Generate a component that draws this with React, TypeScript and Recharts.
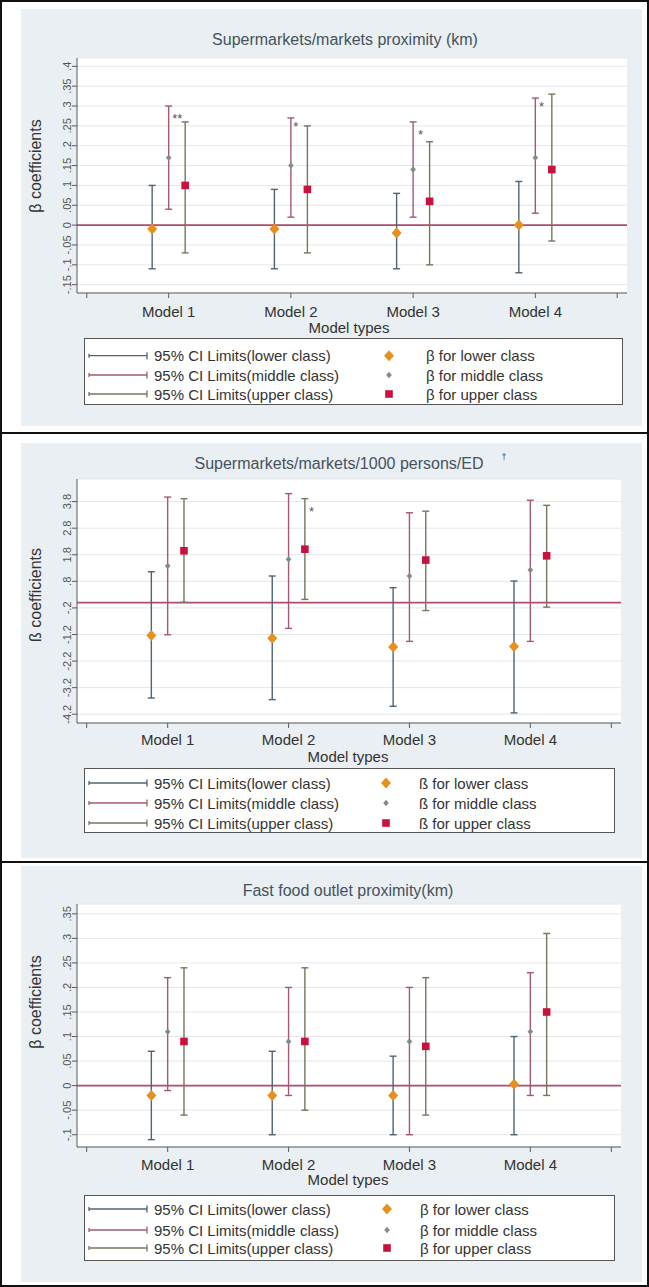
import React from 'react';
import { ComposedChart, Scatter, XAxis, YAxis, CartesianGrid, ReferenceLine, ErrorBar } from 'recharts';

// ---------- shared categories / labels ----------
const models = [1, 2, 3, 4];
const modelLabels = ['Model 1', 'Model 2', 'Model 3', 'Model 4'];
const xTicks = [0.33, 1, 2, 3, 4, 4.67];
const xAxisTitle = 'Model types';
const ciLabels = ['95% CI Limits(lower class)', '95% CI Limits(middle class)', '95% CI Limits(upper class)'];
const betaLabelTail = [' for lower class', ' for middle class', ' for upper class'];

// ---------- panel 1: Supermarkets/markets proximity (km) ----------
const p1Title = 'Supermarkets/markets proximity (km)';
const p1LowerBeta = [-0.01, -0.01, -0.02, 0.0];
const p1LowerLo = [-0.11, -0.11, -0.11, -0.12];
const p1LowerHi = [0.1, 0.09, 0.08, 0.11];
const p1MiddleBeta = [0.17, 0.15, 0.14, 0.17];
const p1MiddleLo = [0.04, 0.02, 0.02, 0.03];
const p1MiddleHi = [0.3, 0.27, 0.26, 0.32];
const p1UpperBeta = [0.1, 0.09, 0.06, 0.14];
const p1UpperLo = [-0.07, -0.07, -0.1, -0.04];
const p1UpperHi = [0.26, 0.25, 0.21, 0.33];
const p1YTicks = [-0.15, -0.1, -0.05, 0, 0.05, 0.1, 0.15, 0.2, 0.25, 0.3, 0.35, 0.4];
const p1AnnotX = [1.07, 2.04, 3.06, 4.05];
const p1AnnotY = [0.275, 0.255, 0.237, 0.306];
const p1AnnotText = ['**', '*', '*', '*'];

// ---------- panel 2: Supermarkets/markets/1000 persons/ED ----------
const p2Title = 'Supermarkets/markets/1000 persons/ED';
const p2LowerBeta = [-1.24, -1.34, -1.67, -1.65];
const p2LowerLo = [-3.59, -3.65, -3.9, -4.15];
const p2LowerHi = [1.16, 1.0, 0.56, 0.81];
const p2MiddleBeta = [1.38, 1.63, 1.0, 1.23];
const p2MiddleLo = [-1.21, -0.97, -1.46, -1.46];
const p2MiddleHi = [3.97, 4.1, 3.38, 3.85];
const p2UpperBeta = [1.95, 2.01, 1.6, 1.76];
const p2UpperLo = [0.01, 0.12, -0.3, -0.17];
const p2UpperHi = [3.91, 3.91, 3.44, 3.66];
const p2YTicks = [-4.2, -3.2, -2.2, -1.2, -0.2, 0.8, 1.8, 2.8, 3.8];
const p2AnnotX = [2.19];
const p2AnnotY = [3.55];
const p2AnnotText = ['*'];

// ---------- panel 3: Fast food outlet proximity(km) ----------
const p3Title = 'Fast food outlet proximity(km)';
const p3LowerBeta = [-0.02, -0.02, -0.02, 0.003];
const p3LowerLo = [-0.11, -0.1, -0.1, -0.1];
const p3LowerHi = [0.07, 0.07, 0.06, 0.1];
const p3MiddleBeta = [0.11, 0.09, 0.09, 0.11];
const p3MiddleLo = [-0.01, -0.02, -0.1, -0.02];
const p3MiddleHi = [0.22, 0.2, 0.2, 0.23];
const p3UpperBeta = [0.09, 0.09, 0.08, 0.15];
const p3UpperLo = [-0.06, -0.05, -0.06, -0.02];
const p3UpperHi = [0.24, 0.24, 0.22, 0.31];
const p3YTicks = [-0.1, -0.05, 0, 0.05, 0.1, 0.15, 0.2, 0.25, 0.3, 0.35];

// ---------- styles ----------
const FONT = '"Liberation Sans", Arial, sans-serif';
const LOWER_CI = '#4d6474';
const MIDDLE_CI = '#a35a6c';
const UPPER_CI = '#76765e';
const ZERO = '#b24c6c';
const LOWER_PT = '#e8901e';
const MIDDLE_PT = '#7d8b92';
const UPPER_PT = '#c8123e';
const GRAY_BG = '#e9eff2';
const AXIS = '#5a5a5a';
const TEXT = '#333333';
const TITLE = '#46525c';
const classOffsets = [-0.135, 0, 0.135];

const fmtY = (v: number) => {
  const s = String(Math.round(v * 100) / 100);
  return s.replace(/^0\./, '.').replace(/^-0\./, '-.');
};

const makeRows = (beta: number[], lo: number[], hi: number[], off: number) =>
  models.map((m, i) => ({ x: m + off, y: beta[i], err: [beta[i] - lo[i], hi[i] - beta[i]] }));

const makeAnnots = (xs: number[], ys: number[], ts: string[]) =>
  xs.map((x, i) => ({ x, y: ys[i], t: ts[i] }));

const Empty = () => <g />;
const DiamondBig = (p: any) => (
  <polygon points={`${p.cx},${p.cy - 5.5} ${p.cx + 5},${p.cy} ${p.cx},${p.cy + 5.5} ${p.cx - 5},${p.cy}`} fill={LOWER_PT} />
);
const DotSmall = (p: any) => (
  <polygon points={`${p.cx},${p.cy - 3.2} ${p.cx + 2.8},${p.cy} ${p.cx},${p.cy + 3.2} ${p.cx - 2.8},${p.cy}`} fill={MIDDLE_PT} />
);
const SquareMark = (p: any) => <rect x={p.cx - 3.8} y={p.cy - 3.8} width={7.6} height={7.6} fill={UPPER_PT} />;
const AnnotMark = (p: any) => (
  <text x={p.cx} y={p.cy + 7.5} textAnchor="middle" fontSize={13} fill="#555" fontFamily={FONT}>
    {p.payload.t}
  </text>
);

const YTick = (p: any) => {
  const cx = p.x - 5;
  return (
    <text x={cx} y={p.y} transform={`rotate(-90, ${cx}, ${p.y})`} textAnchor="middle" dy="0.36em" fontSize={11} fill="#555" fontFamily={FONT}>
      {fmtY(p.payload.value)}
    </text>
  );
};

type PanelProps = {
  top: number;
  height: number;
  margin: { top: number; left: number; right: number; bottom: number };
  yDomain: [number, number];
  yTicks: number[];
  lower: [number[], number[], number[]];
  middle: [number[], number[], number[]];
  upper: [number[], number[], number[]];
  annots: { x: number; y: number; t: string }[];
  tickMargin: number;
};

function PanelChart(props: PanelProps) {
  const { top, height, margin, yDomain, yTicks, lower, middle, upper, annots, tickMargin } = props;
  const series = [
    { d: makeRows(lower[0], lower[1], lower[2], classOffsets[0]), ci: LOWER_CI, shape: DiamondBig },
    { d: makeRows(middle[0], middle[1], middle[2], classOffsets[1]), ci: MIDDLE_CI, shape: DotSmall },
    { d: makeRows(upper[0], upper[1], upper[2], classOffsets[2]), ci: UPPER_CI, shape: SquareMark },
  ];
  return (
    <div style={{ position: 'absolute', left: 0, top, width: 649, height }}>
      <ComposedChart width={649} height={height} margin={margin}>
        <CartesianGrid vertical={false} stroke="#e4e6e8" fill="#ffffff" />
        <XAxis
          type="number"
          dataKey="x"
          domain={[0.25, 4.75]}
          ticks={xTicks}
          interval={0}
          allowDataOverflow
          height={30}
          tickSize={5}
          tickMargin={tickMargin}
          axisLine={{ stroke: AXIS }}
          tickLine={{ stroke: AXIS }}
          tick={{ fontSize: 15, fill: TEXT, fontFamily: FONT }}
          tickFormatter={(v: number) => (Number.isInteger(v) ? modelLabels[v - 1] : '')}
        />
        <YAxis
          type="number"
          dataKey="y"
          domain={yDomain}
          ticks={yTicks}
          interval={0}
          allowDataOverflow
          width={20}
          tickSize={5}
          tickMargin={0}
          axisLine={{ stroke: AXIS }}
          tickLine={{ stroke: AXIS }}
          tick={<YTick />}
        />
        <ReferenceLine y={0} stroke={ZERO} strokeWidth={1.7} />
        {series.map((s, i) => (
          <Scatter key={'ci' + i} data={s.d} shape={Empty} isAnimationActive={false} legendType="none">
            <ErrorBar dataKey="err" direction="y" width={3.5} stroke={s.ci} strokeWidth={1.4} isAnimationActive={false} />
          </Scatter>
        ))}
        {series.map((s, i) => (
          <Scatter key={'pt' + i} data={s.d} shape={s.shape} isAnimationActive={false} legendType="none" />
        ))}
        <Scatter data={annots} shape={AnnotMark} isAnimationActive={false} legendType="none" />
      </ComposedChart>
    </div>
  );
}

function LegendBox(props: { left: number; top: number; width: number; height: number; rows: number[]; symX: number; betaX: number; beta: string }) {
  const { left, top, width, height, rows, symX, betaX, beta } = props;
  const ciColors = [LOWER_CI, MIDDLE_CI, UPPER_CI];
  return (
    <svg style={{ position: 'absolute', left, top }} width={width} height={height}>
      <rect x={0.5} y={0.5} width={width - 1} height={height - 1} fill="#fff" stroke="#555" />
      {rows.map((y, i) => (
        <g key={i}>
          <line x1={5} x2={63} y1={y} y2={y} stroke={ciColors[i]} strokeWidth={1.3} />
          <line x1={5} x2={5} y1={y - 2} y2={y + 2} stroke={ciColors[i]} strokeWidth={1.3} />
          <line x1={63} x2={63} y1={y - 3.5} y2={y + 3.5} stroke={ciColors[i]} strokeWidth={1.3} />
          <text x={70} y={y} dominantBaseline="central" fontSize={15} fill={TEXT} fontFamily={FONT}>
            {ciLabels[i]}
          </text>
          {i === 0 && <DiamondBig cx={symX} cy={y} />}
          {i === 1 && <DotSmall cx={symX} cy={y} />}
          {i === 2 && <SquareMark cx={symX} cy={y} />}
          <text x={betaX} y={y} dominantBaseline="central" fontSize={15} fill={TEXT} fontFamily={FONT}>
            {beta + betaLabelTail[i]}
          </text>
        </g>
      ))}
    </svg>
  );
}

export default function App() {
  return (
    <div style={{ position: 'absolute', left: 0, top: 0, width: 649, height: 1287, background: '#fff', fontFamily: FONT, overflow: 'hidden' }}>
      {/* gray panel backgrounds */}
      <div style={{ position: 'absolute', left: 21, top: 9, width: 621, height: 417, background: GRAY_BG }} />
      <div style={{ position: 'absolute', left: 21, top: 443, width: 621, height: 415, background: GRAY_BG }} />
      <div style={{ position: 'absolute', left: 21, top: 866, width: 621, height: 416, background: GRAY_BG }} />

      <PanelChart
        top={0}
        height={432}
        margin={{ top: 58, left: 57, right: 22, bottom: 109 }}
        yDomain={[-0.171, 0.421]}
        yTicks={p1YTicks}
        lower={[p1LowerBeta, p1LowerLo, p1LowerHi]}
        middle={[p1MiddleBeta, p1MiddleLo, p1MiddleHi]}
        upper={[p1UpperBeta, p1UpperLo, p1UpperHi]}
        annots={makeAnnots(p1AnnotX, p1AnnotY, p1AnnotText)}
        tickMargin={8}
      />
      <PanelChart
        top={432}
        height={429}
        margin={{ top: 47, left: 57, right: 28, bottom: 108 }}
        yDomain={[-4.53, 4.65]}
        yTicks={p2YTicks}
        lower={[p2LowerBeta, p2LowerLo, p2LowerHi]}
        middle={[p2MiddleBeta, p2MiddleLo, p2MiddleHi]}
        upper={[p2UpperBeta, p2UpperLo, p2UpperHi]}
        annots={makeAnnots(p2AnnotX, p2AnnotY, p2AnnotText)}
        tickMargin={6}
      />
      <PanelChart
        top={861}
        height={426}
        margin={{ top: 43, left: 57, right: 28, bottom: 110 }}
        yDomain={[-0.125, 0.37]}
        yTicks={p3YTicks}
        lower={[p3LowerBeta, p3LowerLo, p3LowerHi]}
        middle={[p3MiddleBeta, p3MiddleLo, p3MiddleHi]}
        upper={[p3UpperBeta, p3UpperLo, p3UpperHi]}
        annots={[]}
        tickMargin={7}
      />

      {/* titles and axis titles */}
      <svg style={{ position: 'absolute', left: 0, top: 0, pointerEvents: 'none' }} width={649} height={1287}>
        <g fontFamily={FONT}>
          <text x={345} y={39} textAnchor="middle" dominantBaseline="central" fontSize={16} fill={TITLE}>{p1Title}</text>
          <text x={339} y={463} textAnchor="middle" dominantBaseline="central" fontSize={16} fill={TITLE}>{p2Title}</text>
          <text x={504} y={457} textAnchor="middle" dominantBaseline="central" fontSize={9} fill={TITLE}>†</text>
          <text x={348} y={890} textAnchor="middle" dominantBaseline="central" fontSize={16} fill={TITLE}>{p3Title}</text>

          <text x={349} y={327} textAnchor="middle" dominantBaseline="central" fontSize={15} fill={TEXT}>{xAxisTitle}</text>
          <text x={348} y={756} textAnchor="middle" dominantBaseline="central" fontSize={15} fill={TEXT}>{xAxisTitle}</text>
          <text x={348} y={1179} textAnchor="middle" dominantBaseline="central" fontSize={15} fill={TEXT}>{xAxisTitle}</text>

          <text x={35} y={166} transform="rotate(-90, 35, 166)" textAnchor="middle" dominantBaseline="central" fontSize={16} fill={TEXT}>β coefficients</text>
          <text x={35} y={595} transform="rotate(-90, 35, 595)" textAnchor="middle" dominantBaseline="central" fontSize={16} fill={TEXT}>ß coefficients</text>
          <text x={35} y={1002} transform="rotate(-90, 35, 1002)" textAnchor="middle" dominantBaseline="central" fontSize={16} fill={TEXT}>β coefficients</text>
        </g>
      </svg>

      <LegendBox left={84} top={338} width={539} height={67} rows={[17.7, 37, 56]} symX={305} betaX={342} beta="β" />
      <LegendBox left={84} top={768} width={531} height={65} rows={[15, 35, 55]} symX={302} betaX={335} beta="ß" />
      <LegendBox left={84} top={1195} width={531} height={66} rows={[14, 35, 53]} symX={303} betaX={336} beta="β" />

      {/* frame and separators */}
      <div style={{ position: 'absolute', left: 0, top: 0, width: 649, height: 1287, boxSizing: 'border-box', border: '2px solid #111', pointerEvents: 'none' }} />
      <div style={{ position: 'absolute', left: 0, top: 432, width: 649, height: 2, background: '#111' }} />
      <div style={{ position: 'absolute', left: 0, top: 861, width: 649, height: 2, background: '#111' }} />
    </div>
  );
}
